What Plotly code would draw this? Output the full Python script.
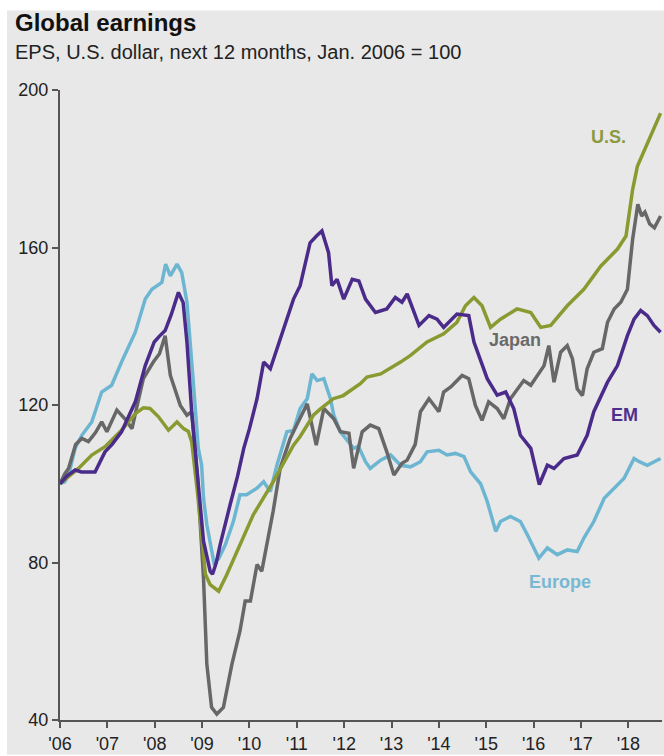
import plotly.graph_objects as go

# ---- data (decimal years, index Jan. 2006 = 100) ----
us_x = [2006.0, 2006.15, 2006.39, 2006.67, 2006.95, 2007.3, 2007.59, 2007.76, 2007.9, 2008.08,
        2008.29, 2008.47, 2008.61, 2008.71, 2008.78, 2008.9, 2009.07, 2009.17, 2009.35, 2009.52,
        2009.8, 2010.08, 2010.5, 2010.93, 2011.07, 2011.35, 2011.5, 2011.77, 2011.98, 2012.34,
        2012.48, 2012.77, 2013.19, 2013.4, 2013.75, 2014.1, 2014.38, 2014.56, 2014.74, 2014.91,
        2015.09, 2015.3, 2015.65, 2015.94, 2016.15, 2016.36, 2016.71, 2017.06, 2017.42, 2017.77,
        2017.95, 2018.09, 2018.19, 2018.4, 2018.68]
us_y = [100, 101.5, 103.9, 107.3, 109.4, 113.6, 117.8, 119.3, 119.1, 117.0,
        113.6, 115.7, 114.0, 113.3, 110.7, 98.0, 77.0, 74.4, 72.7, 76.9,
        84.5, 92.1, 100.5, 109.8, 112.0, 117.4, 119.0, 121.6, 122.4, 125.4,
        127.1, 127.9, 130.9, 132.6, 136.0, 138.1, 141.0, 145.2, 147.3, 145.2,
        139.7, 141.8, 144.4, 143.5, 139.7, 140.2, 145.2, 149.4, 155.3, 159.6,
        162.9, 174.7, 180.6, 186.5, 194.1]

japan_x = [2006.0, 2006.1, 2006.18, 2006.33, 2006.46, 2006.6, 2006.75, 2006.88, 2006.99, 2007.2,
           2007.37, 2007.52, 2007.65, 2007.76, 2007.97, 2008.1, 2008.22, 2008.33, 2008.54, 2008.68,
           2008.78, 2008.9, 2009.03, 2009.1, 2009.2, 2009.31, 2009.45, 2009.63, 2009.8, 2009.91,
           2010.02, 2010.16, 2010.26, 2010.5, 2010.65, 2010.86, 2011.0, 2011.22, 2011.41, 2011.57,
           2011.78, 2011.92, 2012.1, 2012.2, 2012.38, 2012.55, 2012.73, 2012.9, 2013.05, 2013.22,
           2013.33, 2013.5, 2013.61, 2013.79, 2014.0, 2014.1, 2014.25, 2014.49, 2014.63, 2014.77,
           2014.91, 2015.05, 2015.23, 2015.37, 2015.51, 2015.65, 2015.79, 2015.94, 2016.08, 2016.22,
           2016.32, 2016.43, 2016.57, 2016.71, 2016.82, 2016.92, 2017.03, 2017.13, 2017.27, 2017.45,
           2017.56, 2017.7, 2017.84, 2017.98, 2018.09, 2018.2, 2018.28, 2018.35, 2018.45, 2018.55,
           2018.68]
japan_y = [100, 102.5, 103.9, 110.0, 111.5, 110.7, 113.0, 115.7, 113.2, 118.7,
           116.5, 114.0, 121.0, 126.7, 130.9, 133.0, 137.6, 127.5, 119.9, 117.4,
           118.3, 102.0, 76.0, 54.2, 43.2, 41.5, 43.2, 54.2, 62.6, 70.2,
           70.2, 79.5, 77.8, 93.0, 104.0, 111.5, 115.0, 120.3, 109.8, 119.1,
           116.5, 113.2, 112.8, 103.9, 113.2, 114.9, 114.0, 108.1, 102.2, 105.2,
           106.0, 110.0, 118.3, 121.6, 118.3, 123.3, 124.6, 127.5, 126.7, 119.9,
           116.1, 120.8, 119.1, 116.5, 121.6, 124.1, 126.2, 125.0, 127.5, 130.0,
           135.1, 125.8, 133.4, 135.1, 131.7, 124.1, 122.4, 129.2, 133.4, 134.3,
           141.0, 144.4, 146.1, 149.4, 162.1, 171.0, 168.0, 169.0, 166.0, 165.0,
           168.0]

em_x = [2006.0, 2006.04, 2006.15, 2006.32, 2006.45, 2006.6, 2006.74, 2006.95, 2007.1, 2007.3,
        2007.45, 2007.59, 2007.8, 2007.99, 2008.1, 2008.22, 2008.35, 2008.5, 2008.6, 2008.68,
        2008.78, 2008.9, 2009.03, 2009.17, 2009.22, 2009.3, 2009.38, 2009.59, 2009.75, 2009.88,
        2010.0, 2010.16, 2010.3, 2010.44, 2010.58, 2010.79, 2010.93, 2011.07, 2011.28, 2011.42,
        2011.53, 2011.67, 2011.74, 2011.85, 2011.99, 2012.17, 2012.31, 2012.45, 2012.66, 2012.9,
        2013.08, 2013.22, 2013.33, 2013.58, 2013.79, 2013.96, 2014.1, 2014.38, 2014.63, 2014.74,
        2015.02, 2015.23, 2015.41, 2015.58, 2015.72, 2015.94, 2016.08, 2016.12, 2016.29, 2016.43,
        2016.64, 2016.92, 2017.13, 2017.27, 2017.56, 2017.77, 2017.98, 2018.12, 2018.26, 2018.4,
        2018.54, 2018.68]
em_y = [100, 100.5, 102.0, 103.5, 103.0, 103.0, 103.0, 108.1, 110.0, 113.2,
        117.0, 120.8, 130.0, 136.0, 137.5, 138.9, 143.0, 148.6, 146.0, 136.0,
        118.3, 102.0, 85.4, 77.8, 77.0, 80.0, 84.5, 94.6, 102.0, 109.0,
        114.0, 121.6, 130.9, 129.2, 134.3, 141.8, 146.9, 150.3, 161.2, 163.0,
        164.2, 158.7, 150.3, 151.9, 146.9, 151.9, 151.5, 146.9, 143.5, 144.4,
        147.3, 146.1, 148.2, 140.2, 142.7, 141.8, 139.7, 143.1, 142.7, 136.0,
        126.7, 122.5, 123.3, 119.1, 112.3, 109.0, 102.2, 99.8, 104.7, 103.9,
        106.4, 107.3, 112.3, 118.3, 125.8, 130.0, 137.6, 141.8, 144.0, 142.7,
        140.2, 138.5]

europe_x = [2006.0, 2006.1, 2006.18, 2006.32, 2006.46, 2006.67, 2006.88, 2007.09, 2007.3, 2007.59,
            2007.8, 2007.94, 2008.15, 2008.23, 2008.33, 2008.47, 2008.57, 2008.68, 2008.8, 2008.92,
            2008.99, 2009.03, 2009.1, 2009.2, 2009.25, 2009.35, 2009.49, 2009.66, 2009.8, 2009.94,
            2010.16, 2010.3, 2010.44, 2010.58, 2010.79, 2010.93, 2011.07, 2011.22, 2011.32, 2011.43,
            2011.57, 2011.71, 2011.78, 2011.92, 2012.06, 2012.2, 2012.3, 2012.45, 2012.55, 2012.77,
            2012.98, 2013.19, 2013.4, 2013.61, 2013.75, 2014.0, 2014.17, 2014.35, 2014.53, 2014.67,
            2014.88, 2015.02, 2015.2, 2015.3, 2015.51, 2015.72, 2015.87, 2016.0, 2016.11, 2016.29,
            2016.5, 2016.71, 2016.92, 2017.06, 2017.27, 2017.49, 2017.7, 2017.91, 2018.12, 2018.23,
            2018.4, 2018.54, 2018.68]
europe_y = [100, 100.5, 102.2, 109.0, 112.3, 115.7, 123.3, 125.0, 130.9, 138.5,
            146.9, 149.4, 151.1, 155.8, 152.8, 155.8, 153.6, 146.1, 128.0, 109.0,
            104.7, 96.3, 89.6, 82.9, 80.0, 81.0, 84.5, 90.4, 97.2, 97.2,
            98.9, 100.5, 98.0, 104.7, 113.2, 113.5, 119.1, 121.6, 127.9, 126.2,
            126.7, 121.6, 117.4, 113.2, 111.0, 109.0, 109.5, 105.6, 103.9, 106.0,
            107.3, 104.7, 104.3, 105.6, 108.1, 108.5, 107.3, 107.7, 106.9, 103.0,
            100.0, 95.5, 87.9, 90.4, 91.7, 90.4, 87.0, 83.7, 81.1, 83.7,
            82.0, 83.2, 82.8, 86.2, 90.4, 96.3, 98.9, 101.4, 106.4, 105.6,
            104.7, 105.6, 106.4]

year_ticks = [2006, 2007, 2008, 2009, 2010, 2011, 2012, 2013, 2014, 2015, 2016, 2017, 2018]
year_labels = ["'06", "'07", "'08", "'09", "'10", "'11", "'12", "'13", "'14", "'15", "'16", "'17", "'18"]
value_ticks = [40, 80, 120, 160, 200]

series_names = ["U.S.", "Japan", "EM", "Europe"]
label_x = [2017.57, 2015.6, 2017.91, 2016.56]
label_y = [188.0, 136.5, 117.4, 75.0]

# ---- styling ----
COL = {"U.S.": "#8a9a30", "Japan": "#676767", "EM": "#4b2b8a", "Europe": "#6cb6d2"}
LABEL_COL = {"U.S.": "#8c9a40", "Japan": "#6a6a6a", "EM": "#4f2f8c", "Europe": "#78b8d2"}
FONT = "Liberation Sans, Arial, sans-serif"
W, H = 664, 756
ML, MR, MT, MB = 60, 2, 90, 33
PW, PH = W - ML - MR, H - MT - MB


def px_to_paper_x(px):
    return (px - ML) / PW


def px_to_paper_y(py):
    return (H - MB - py) / PH


fig = go.Figure()
data = {
    "U.S.": (us_x, us_y),
    "Japan": (japan_x, japan_y),
    "EM": (em_x, em_y),
    "Europe": (europe_x, europe_y),
}
for name in ["Europe", "Japan", "U.S.", "EM"]:
    xs, ys = data[name]
    fig.add_trace(go.Scatter(x=xs, y=ys, mode="lines", name=name,
                             line=dict(color=COL[name], width=3.5),
                             showlegend=False, hoverinfo="skip"))

annotations = []
for name, lx, ly in zip(series_names, label_x, label_y):
    annotations.append(dict(x=lx, y=ly, xref="x", yref="y", text=f"<b>{name}</b>",
                            showarrow=False, font=dict(family=FONT, size=18, color=LABEL_COL[name]),
                            xanchor="center", yanchor="middle"))

annotations.append(dict(x=px_to_paper_x(13), y=px_to_paper_y(22), xref="paper", yref="paper",
                        text="<b>Global earnings</b>", showarrow=False, xanchor="left", yanchor="middle",
                        font=dict(family=FONT, size=24, color="#111111")))
annotations.append(dict(x=px_to_paper_x(13), y=px_to_paper_y(52), xref="paper", yref="paper",
                        text="EPS, U.S. dollar, next 12 months, Jan. 2006 = 100", showarrow=False,
                        xanchor="left", yanchor="middle",
                        font=dict(family=FONT, size=20, color="#222222")))

shapes = [dict(type="rect", xref="paper", yref="paper", layer="below",
               x0=px_to_paper_x(7), x1=px_to_paper_x(W + 2),
               y0=px_to_paper_y(H + 2), y1=px_to_paper_y(10),
               fillcolor="#e8e8e8", line=dict(width=0))]

fig.update_layout(
    width=W, height=H,
    margin=dict(l=ML, r=MR, t=MT, b=MB, pad=0),
    paper_bgcolor="#ffffff",
    plot_bgcolor="rgba(0,0,0,0)",
    font=dict(family=FONT, color="#222222"),
    annotations=annotations,
    shapes=shapes,
    xaxis=dict(range=[2006.0, 2018.71], tickvals=year_ticks, ticktext=year_labels,
               showgrid=False, zeroline=False, showline=True, linecolor="#555555", linewidth=2,
               ticks="outside", ticklen=6, tickwidth=1.5, tickcolor="#555555",
               tickfont=dict(family=FONT, size=18, color="#222222"), fixedrange=True),
    yaxis=dict(range=[40, 200], tickvals=value_ticks,
               showgrid=False, zeroline=False, showline=True, linecolor="#555555", linewidth=2,
               ticks="outside", ticklen=6, tickwidth=1.5, tickcolor="#555555",
               tickfont=dict(family=FONT, size=18, color="#222222"), fixedrange=True),
)

fig.write_html("out.html", config={"displayModeBar": False},
               post_script="document.body.style.margin='0';document.body.style.padding='0';")
